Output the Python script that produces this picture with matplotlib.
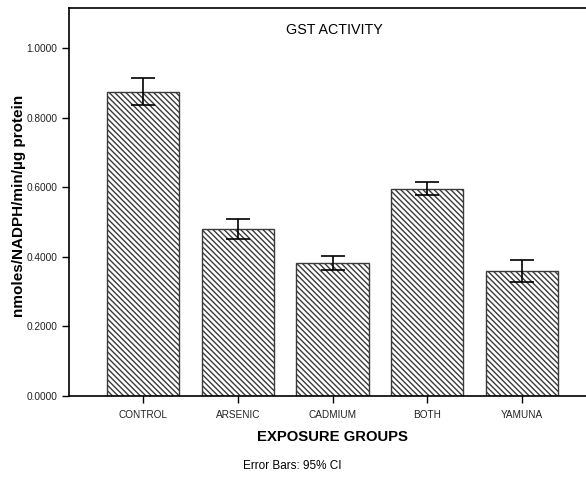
import matplotlib

matplotlib.use("Agg")
import matplotlib.pyplot as plt
import numpy as np

groups = ["CONTROL", "ARSENIC", "CADMIUM", "BOTH", "YAMUNA"]
means = [0.875, 0.481, 0.382, 0.595, 0.360]
ci_low = [0.835, 0.452, 0.362, 0.578, 0.328]
ci_high = [0.915, 0.510, 0.403, 0.615, 0.390]
yticks = [0.0, 0.2, 0.4, 0.6, 0.8, 1.0]

plt.rcParams["font.family"] = ["Liberation Sans", "DejaVu Sans"]
plt.rcParams["hatch.color"] = "#3a3a3a"
plt.rcParams["hatch.linewidth"] = 1.0

fig = plt.figure(figsize=(5.86, 4.79), dpi=100)
ax = fig.add_axes([0.1177, 0.1733, 0.8823, 0.81])

x = np.arange(len(groups))
means = np.array(means)
err = [means - np.array(ci_low), np.array(ci_high) - means]

ax.bar(x, means, width=0.76, color="white", edgecolor="#3a3a3a",
       linewidth=1.0, hatch="\\" * 6, zorder=2)
ax.errorbar(x, means, yerr=err, fmt="none", ecolor="black",
            elinewidth=1.2, capsize=8.5, capthick=1.2, zorder=3)

ax.set_xlim(-0.781, 4.675)
ax.set_ylim(0, 1.115)
ax.set_yticks(yticks)
ax.set_yticklabels([f"{v:.4f}" for v in yticks], fontsize=7.3, color="#222222")
ax.set_xticks(x)
ax.set_xticklabels(groups, fontsize=7.2, color="#222222")
ax.tick_params(axis="both", direction="out", length=5, width=1, color="black")
ax.tick_params(axis="x", pad=5)

ax.spines["right"].set_visible(False)
for s in ["left", "bottom", "top"]:
    ax.spines[s].set_linewidth(1.2)

ax.set_ylabel("nmoles/NADPH/min/\u00b5g protein", fontsize=11, fontweight="bold")
ax.yaxis.set_label_coords(-0.083, 0.49)
ax.set_xlabel("EXPOSURE GROUPS", fontsize=10.7, fontweight="bold")
ax.xaxis.set_label_coords(0.51, -0.088)
ax.text(0.513, 0.943, "GST ACTIVITY", transform=ax.transAxes, ha="center",
        va="center", fontsize=10.3)
fig.text(0.499, 0.027, "Error Bars: 95% CI", ha="center", va="center", fontsize=8.5)

fig.savefig("out.png", dpi=100)
